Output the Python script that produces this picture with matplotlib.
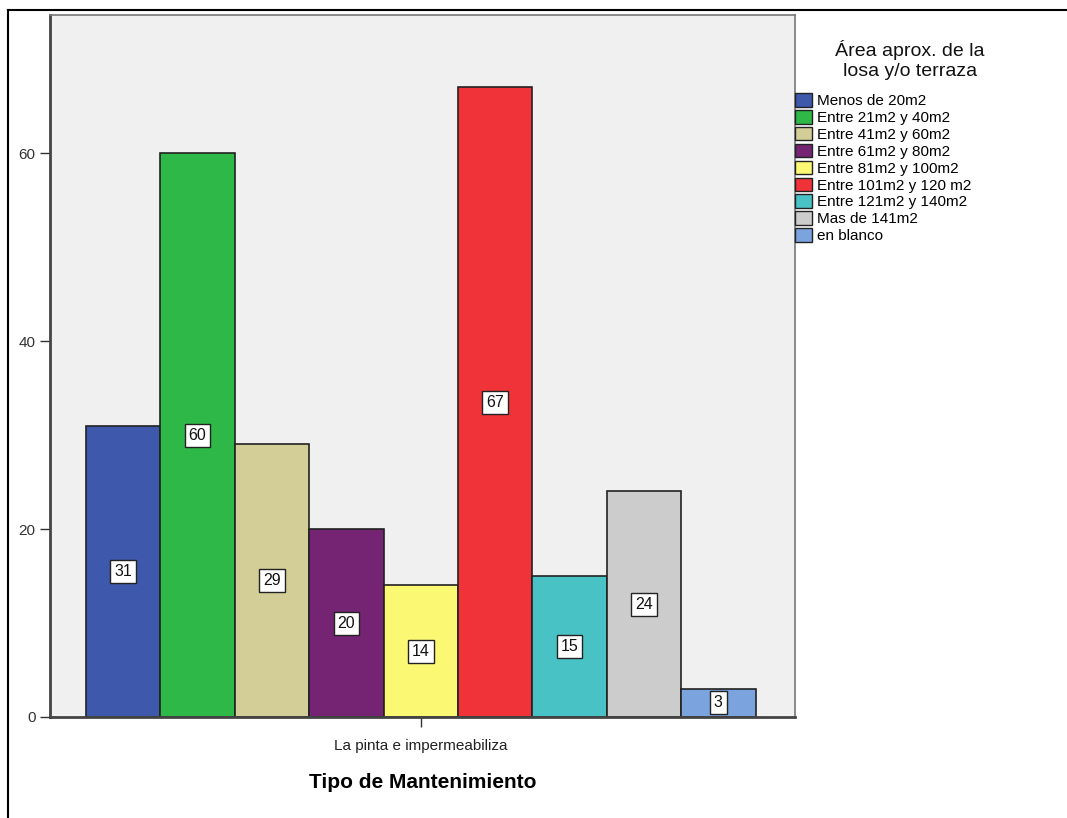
import matplotlib
matplotlib.use("Agg")
import matplotlib.pyplot as plt
from matplotlib.patches import Patch
from matplotlib.lines import Line2D

plt.rcParams['font.family'] = ['Liberation Sans', 'DejaVu Sans']

categories = ["Menos de 20m2", "Entre 21m2 y 40m2", "Entre 41m2 y 60m2",
              "Entre 61m2 y 80m2", "Entre 81m2 y 100m2", "Entre 101m2 y 120 m2",
              "Entre 121m2 y 140m2", "Mas de 141m2", "en blanco"]
values = [31, 60, 29, 20, 14, 67, 15, 24, 3]
colors = ["#3E58AC", "#2EB848", "#D3CE97", "#752473", "#FBF873",
          "#EF3338", "#48C2C5", "#CCCCCC", "#7BA3DD"]
group_label = "La pinta e impermeabiliza"
legend_title = "Área aprox. de la\nlosa y/o terraza"
yticks = [0, 20, 40, 60]

fig = plt.figure(figsize=(10.67, 8.18), dpi=100)
ax = fig.add_axes([50/1067, 1-717/818, (795-50)/1067, (717-15)/818])
ax.set_facecolor("#F0F0F0")

xs = list(range(len(values)))
ax.bar(xs, values, width=1.0, color=colors, edgecolor="#222222", linewidth=1.2, zorder=2)
for x, v in zip(xs, values):
    ax.text(x, v/2, str(v), ha="center", va="center", fontsize=11.5, color="#111111", zorder=3,
            bbox=dict(boxstyle="square,pad=0.25", fc="white", ec="#222222", lw=1))

ax.set_xlim(-0.984, 9.03)
ax.set_ylim(0, 74.7)
ax.set_yticks(yticks)
ax.set_yticklabels([str(t) for t in yticks], fontsize=11, color="#333333")
ax.set_xticks([4])
ax.set_xticklabels([group_label], fontsize=11, color="#222222")
ax.tick_params(axis="both", direction="out", length=7, width=1, color="#333333")
ax.tick_params(axis="x", pad=9)
for s in ["left", "bottom"]:
    ax.spines[s].set_linewidth(2)
    ax.spines[s].set_color("#444444")
for s in ["top", "right"]:
    ax.spines[s].set_linewidth(1.2)
    ax.spines[s].set_color("#777777")
ax.set_xlabel("Tipo de Mantenimiento", fontsize=15, fontweight="bold", labelpad=14)

handles = [Patch(facecolor=c, edgecolor="#222222", linewidth=1) for c in colors]
leg = fig.legend(handles, categories,
                 loc="upper left", bbox_to_anchor=(795/1067, 1-93/818), frameon=False,
                 fontsize=11, handlelength=1.1, handleheight=1.0,
                 handletextpad=0.35, labelspacing=0.12, borderaxespad=0, borderpad=0)
fig.text(910/1067, 1-60/818, legend_title, ha="center", va="center", fontsize=14,
         linespacing=1.2, color="#111111")

# outer frame
fig.add_artist(Line2D([8/1067, 1], [1-10/818, 1-10/818], color="black", lw=1.5, transform=fig.transFigure))
fig.add_artist(Line2D([8/1067, 8/1067], [0, 1-10/818], color="black", lw=1.5, transform=fig.transFigure))

fig.savefig("out.png", dpi=100, facecolor="white")
